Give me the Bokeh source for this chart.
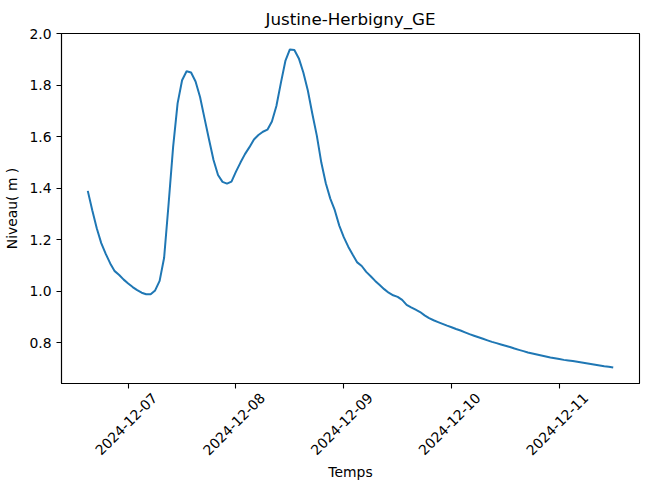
import numpy as np
import pandas as pd
from bokeh.plotting import figure
from bokeh.models import Range1d, FixedTicker, PrintfTickFormatter, DatetimeTickFormatter
from bokeh.embed import file_html
from bokeh.resources import INLINE

# --- data (hourly readings, Dec 6 15:00 -> Dec 11 12:00) ---
start_time = "2024-12-06 15:00"
niveau = [
    1.390, 1.315, 1.245, 1.187, 1.145, 1.108, 1.078, 1.063, 1.045,
    1.030, 1.016, 1.004, 0.994, 0.988, 0.988, 1.003, 1.040, 1.130, 1.340,
    1.560, 1.730, 1.820, 1.855, 1.850, 1.815, 1.755, 1.672, 1.590, 1.510,
    1.452, 1.425, 1.418, 1.426, 1.465, 1.500, 1.533, 1.560, 1.590, 1.607,
    1.620, 1.628, 1.660, 1.720, 1.810, 1.895, 1.940, 1.938, 1.905, 1.850,
    1.780, 1.690, 1.605, 1.500, 1.420, 1.360, 1.315, 1.255, 1.210, 1.173,
    1.142, 1.112, 1.098, 1.075, 1.058, 1.040, 1.024, 1.008, 0.994, 0.984,
    0.978, 0.966, 0.947, 0.937, 0.928, 0.919, 0.906, 0.895, 0.887, 0.880,
    0.873, 0.866, 0.860, 0.853, 0.847, 0.840, 0.833, 0.827, 0.821, 0.815,
    0.809, 0.803, 0.798, 0.793, 0.788, 0.783, 0.777, 0.772, 0.767, 0.762,
    0.758, 0.754, 0.750, 0.746, 0.742, 0.739, 0.736, 0.733, 0.731, 0.729,
    0.726, 0.723, 0.720, 0.717, 0.714, 0.711, 0.708, 0.706, 0.703,
]
temps = pd.date_range(start_time, periods=len(niveau), freq="h")
x_tick_dates = ["2024-12-07", "2024-12-08", "2024-12-09", "2024-12-10", "2024-12-11"]
y_ticks = [0.8, 1.0, 1.2, 1.4, 1.6, 1.8, 2.0]
title_text = "Justine-Herbigny_GE"
x_label = "Temps"
y_label = "Niveau( m )"

# ranges with 5% margins (matplotlib default)
t0, t1 = temps[0], temps[-1]
dt = (t1 - t0) * 0.05
ymin, ymax = min(niveau), max(niveau)
dy = (ymax - ymin) * 0.05
x_start, x_end = t0 - dt, t1 + dt
y_start, y_end = ymin - dy, ymax + dy

FONT = "DejaVu Sans"
FS = "13.9px"

p = figure(width=649, height=489, x_axis_type="datetime",
           output_backend="svg", toolbar_location=None,
           x_range=Range1d(x_start, x_end),
           y_range=Range1d(y_start, y_end),
           min_border_left=61, min_border_right=10,
           min_border_top=33, min_border_bottom=106)

p.line(temps, niveau, line_color="#1f77b4", line_width=2)

p.title.text = title_text
p.title.align = "center"
p.title.text_font = FONT
p.title.text_font_size = "16.7px"
p.title.text_font_style = "normal"
p.title.text_color = "black"

p.grid.visible = False
p.outline_line_color = "black"
p.outline_line_width = 1.1
p.outline_line_alpha = 1.0

# real tick marks drawn as "minor" ticks; the rotated labels sit on "major"
# positions nudged right so each label is centred under its tick (as matplotlib)
LABEL_SHIFT_MS = 5.9 * 3600 * 1000
tick_ms = [pd.Timestamp(d).value / 1e6 for d in x_tick_dates]
p.xaxis.ticker = FixedTicker(ticks=[t + LABEL_SHIFT_MS for t in tick_ms],
                             minor_ticks=tick_ms)
fmt = "%Y-%m-%d"
p.xaxis.formatter = DatetimeTickFormatter(
    microseconds=fmt, milliseconds=fmt, seconds=fmt, minsec=fmt, minutes=fmt,
    hourmin=fmt, hours=fmt, days=fmt, months=fmt, years=fmt)
p.xaxis.major_label_orientation = np.pi / 4
p.yaxis.ticker = FixedTicker(ticks=y_ticks)
p.yaxis.formatter = PrintfTickFormatter(format="%.1f")

for ax in (p.xaxis, p.yaxis):
    ax.axis_line_color = "black"
    ax.axis_line_width = 1.1
    ax.major_tick_line_color = "black"
    ax.major_tick_line_width = 1.1
    ax.major_tick_out = 5
    ax.major_tick_in = 0
    ax.minor_tick_line_color = None
    ax.major_label_text_font = FONT
    ax.major_label_text_font_size = FS
    ax.major_label_text_color = "black"
    ax.axis_label_text_font = FONT
    ax.axis_label_text_font_size = FS
    ax.axis_label_text_font_style = "normal"
    ax.axis_label_text_color = "black"

p.xaxis.major_tick_line_color = None
p.xaxis.minor_tick_line_color = "black"
p.xaxis.minor_tick_line_width = 1.1
p.xaxis.minor_tick_out = 5
p.xaxis.minor_tick_in = 0
p.xaxis.major_label_standoff = 7
p.xaxis.axis_label = x_label
p.xaxis.axis_label_standoff = 1

p.yaxis.axis_label = y_label
p.yaxis.major_label_standoff = 5
p.yaxis.axis_label_standoff = 6

open("out.html", "w").write(file_html(p, INLINE))
